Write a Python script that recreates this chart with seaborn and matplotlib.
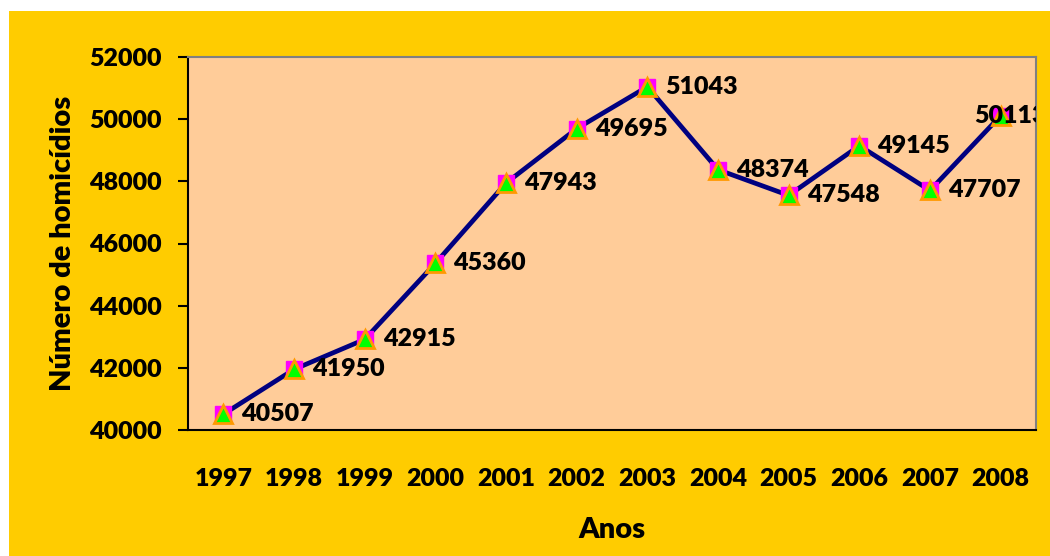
import numpy as np
import pandas as pd
import matplotlib
matplotlib.use("Agg")
import matplotlib.pyplot as plt
import seaborn as sns
from matplotlib.patches import Rectangle

# homicide counts per year
anos = ["1997", "1998", "1999", "2000", "2001", "2002",
        "2003", "2004", "2005", "2006", "2007", "2008"]
homicidios = [40507, 41950, 42915, 45360, 47943, 49695,
              51043, 48374, 47548, 49145, 47707, 50113]
y_ticks = [40000, 42000, 44000, 46000, 48000, 50000, 52000]

df = pd.DataFrame({"pos": np.arange(len(anos)), "ano": anos, "valor": homicidios})

sns.set_theme(style="white")
plt.rcParams["font.family"] = ["Lato", "DejaVu Sans"]
plt.rcParams["font.weight"] = "heavy"
for k in ["text.color", "axes.labelcolor", "xtick.color", "ytick.color"]:
    plt.rcParams[k] = "black"

FS = 18

fig = plt.figure(figsize=(10.5, 5.56), dpi=100, facecolor="white")
# yellow chart area, behind everything
fig.patches.append(Rectangle((9 / 1050, 0), 1, 1 - 11 / 556, transform=fig.transFigure,
                             facecolor="#FFCC00", edgecolor="none", zorder=-10))
ax = fig.add_axes([188 / 1050, 1 - 430 / 556, (1036 - 188) / 1050, (430 - 57) / 556])
ax.set_zorder(5)
ax.set_facecolor("#FFCC99")

sns.lineplot(data=df, x="pos", y="valor", ax=ax, color="#000080", linewidth=3.4, zorder=3)
ax.plot(df["pos"], df["valor"], linestyle="none", marker="s", markersize=11,
        markerfacecolor="#FF00FF", markeredgecolor="#FF00FF", zorder=4)
ax.plot(df["pos"], df["valor"], linestyle="none", marker="^", markersize=13,
        markerfacecolor="#00FF00", markeredgecolor="#FF9900", markeredgewidth=2, zorder=5)

# data labels to the right; the last one is pushed back over its marker
for i, v in enumerate(homicidios):
    dx = 13 if i < len(anos) - 1 else -19
    ax.annotate(str(v), (i, v), xytext=(dx, 0), textcoords="offset points",
                ha="left", va="center", fontsize=FS, fontweight="heavy",
                color="black", zorder=6, annotation_clip=False, clip_on=True)

ax.set_xlim(-0.5, len(anos) - 0.5)
ax.set_ylim(40000, 52000)
ax.set_yticks(y_ticks)
ax.set_yticklabels([str(t) for t in y_ticks], fontsize=FS, fontweight="heavy")
ax.set_xticks(df["pos"])
ax.set_xticklabels(anos, fontsize=FS, fontweight="heavy")
ax.set_xticks(np.arange(-0.5, len(anos), 1), minor=True)
ax.tick_params(axis="x", which="major", length=0, pad=27)
ax.tick_params(axis="x", which="minor", length=7, width=1.5, direction="out", color="black")
ax.tick_params(axis="y", length=7, width=1.5, direction="out", color="black", pad=12, left=True)

for side in ["left", "bottom"]:
    ax.spines[side].set_color("black")
    ax.spines[side].set_linewidth(1.5)
for side in ["top", "right"]:
    ax.spines[side].set_visible(True)
    ax.spines[side].set_color("#808080")
    ax.spines[side].set_linewidth(1.5)

ax.set_xlabel("Anos", fontsize=21, fontweight="heavy", labelpad=20)
ax.set_ylabel("Número de homicídios", fontsize=21, fontweight="heavy", labelpad=9)

fig.savefig("out.png", dpi=100, facecolor=fig.get_facecolor())
